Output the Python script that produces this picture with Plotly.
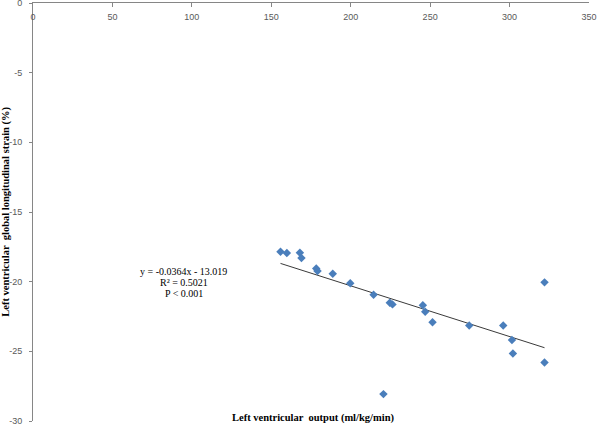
import plotly.graph_objects as go
import numpy as np

# Data
lv_output = [155.8, 159.8, 168.0, 169.0, 178.3, 179.1, 188.7, 199.7, 214.4, 224.6, 226.3,
             245.4, 246.9, 251.5, 274.6, 296.0, 301.5, 302.1, 322.0, 322.0, 220.6]
gls = [-17.85, -17.95, -17.92, -18.3, -19.05, -19.24, -19.43, -20.12, -20.94, -21.51, -21.63,
       -21.70, -22.16, -22.92, -23.14, -23.14, -24.19, -25.15, -20.05, -25.8, -28.07]

slope = -0.0364
intercept = -13.019
eq_lines = ["y = -0.0364x - 13.019", "R² = 0.5021", "P &lt; 0.001"]
eq_y = [-19.24, -20.03, -20.82]

x_ticks = [0, 50, 100, 150, 200, 250, 300, 350]
x_tick_labels = ["0", "50", "100", "150", "200", "250", "300", "350"]
y_ticks = [0, -5, -10, -15, -20, -25, -30]
y_tick_labels = ["0", "-5", "-10", "-15", "-20", "-25", "-30"]

x_title = "Left ventricular  output (ml/kg/min)"
y_title = "Left ventricular  global longitudinal strain (%)"

fig = go.Figure()

x_line = np.array([min(lv_output), max(lv_output)])
fig.add_trace(go.Scatter(x=x_line, y=slope * x_line + intercept, mode="lines",
                         line=dict(color="#3a3a3a", width=1), hoverinfo="skip",
                         showlegend=False))

fig.add_trace(go.Scatter(x=lv_output, y=gls, mode="markers",
                         marker=dict(symbol="diamond", size=6.5, color="#4A7EBB",
                                     line=dict(width=0)),
                         showlegend=False))

tick_font = dict(family="Liberation Sans, Arial, sans-serif", size=9, color="#595959")

fig.update_layout(
    width=600, height=426,
    margin=dict(l=33, r=11, t=3, b=5),
    paper_bgcolor="white", plot_bgcolor="white",
    template="none",
    xaxis=dict(range=[0, 350], tickvals=x_ticks, ticktext=x_tick_labels, side="top",
               ticklabelposition="inside", ticklabeloverflow="allow",
               ticks="inside", ticklen=4, tickcolor="#868686",
               showline=True, linecolor="#868686", linewidth=1,
               showgrid=False, zeroline=False, tickfont=tick_font,
               automargin=False, ticklabelstandoff=6),
    yaxis=dict(range=[-30, 0], tickvals=y_ticks, ticktext=y_tick_labels,
               ticklabeloverflow="allow",
               ticks="outside", ticklen=3, tickcolor="#868686",
               showline=True, linecolor="#868686", linewidth=1,
               showgrid=False, zeroline=False, tickfont=tick_font,
               automargin=False, ticklabelstandoff=5),
)

serif = "Liberation Serif, Times New Roman, serif"
for txt, yy in zip(eq_lines, eq_y):
    fig.add_annotation(x=95, y=yy, xref="x", yref="y", text=txt, showarrow=False,
                       xanchor="center", yanchor="middle",
                       font=dict(family=serif, size=10, color="black"))

fig.add_annotation(x=0.5036, y=0.007, xref="paper", yref="paper",
                   text="<b>" + x_title + "</b>", showarrow=False,
                   xanchor="center", yanchor="middle",
                   font=dict(family=serif, size=10.5, color="black"))
fig.add_annotation(x=-0.05, y=0.501, xref="paper", yref="paper",
                   text="<b>" + y_title + "</b>", showarrow=False, textangle=-90,
                   xanchor="center", yanchor="middle",
                   font=dict(family=serif, size=10.5, color="black"))

fig.write_html("out.html", config={"displayModeBar": False},
               post_script="document.body.style.margin='0';")
